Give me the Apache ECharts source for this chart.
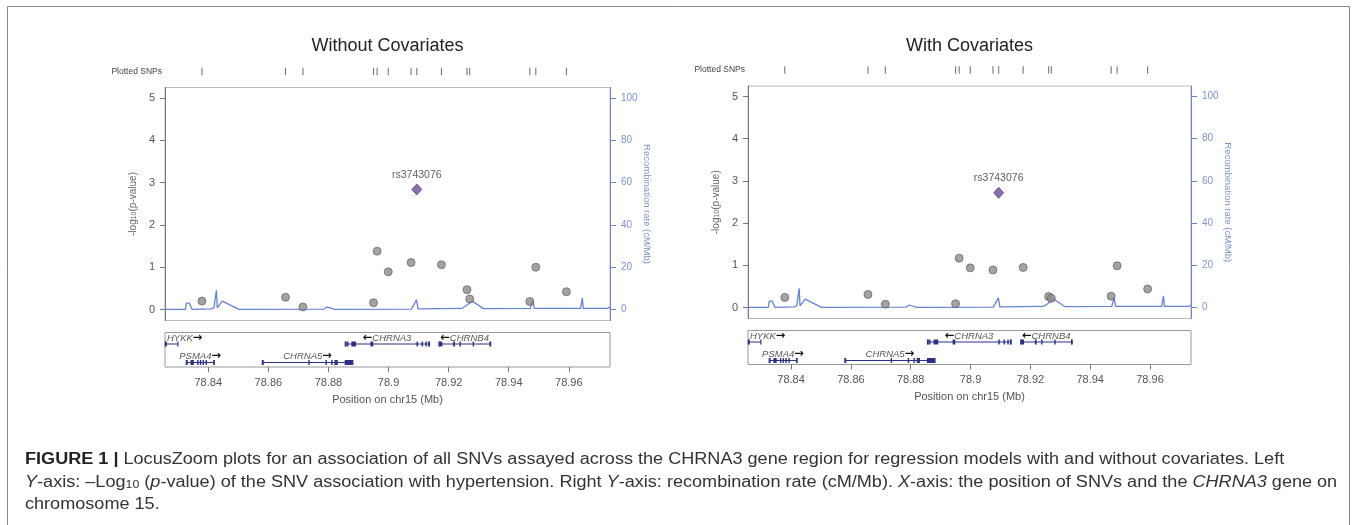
<!DOCTYPE html>
<html><head><meta charset="utf-8">
<script src="https://cdn.jsdelivr.net/npm/echarts/dist/echarts.min.js"></script>
<style>html,body{margin:0;padding:0;background:#fff}#c{width:1357px;height:525px}</style>
</head><body><div id="c"></div>
<script>
// ---------------- data ----------------
const panelTitles = ['Without Covariates', 'With Covariates'];
const snpPos = [78.8379, 78.8657, 78.8715, 78.8950, 78.8962, 78.8999, 78.9075, 78.9094, 78.9176, 78.9261, 78.9270, 78.9470, 78.9490, 78.9592];
const logPNoCov = [0.20, 0.29, 0.06, 0.16, 1.38, 0.89, 1.11, 2.84, 1.06, 0.47, 0.25, 0.19, 1.00, 0.42];
const logPCov   = [0.24, 0.31, 0.08, 0.09, 1.17, 0.94, 0.89, 2.72, 0.95, 0.26, 0.22, 0.27, 0.99, 0.44];
const leadSnpIndex = 7;
const leadSnpName = 'rs3743076';
const recombPos  = [78.8256, 78.8324, 78.8327, 78.8337, 78.8341, 78.8346, 78.8410, 78.8419, 78.8424, 78.8427, 78.8430, 78.8434, 78.8447, 78.8502, 78.8786, 78.8795, 78.8820, 78.9076, 78.9093, 78.9098, 78.9243, 78.9254, 78.9279, 78.9316, 78.9472, 78.9480, 78.9485, 78.9639, 78.9645, 78.9648, 78.9728, 78.9737];
const recombRate = [0.1, 0.1, 3.0, 3.0, 2.6, 0.1, 0.3, 0.9, 0.5, 9.1, 0.8, 0.9, 4.0, 0.1, 0.2, 1.2, 0.1, 0.2, 4.6, 0.3, 0.5, 1.4, 3.9, 0.4, 0.5, 4.6, 0.5, 0.5, 5.5, 0.5, 0.5, 1.1];
const xTicks = [78.84, 78.86, 78.88, 78.90, 78.92, 78.94, 78.96];
const yTicksLeft = [0, 1, 2, 3, 4, 5];
const yTicksRight = [0, 20, 40, 60, 80, 100];
const geneNames  = ['HYKK', 'PSMA4', 'CHRNA5', 'CHRNA3', 'CHRNB4'];
const geneStart  = [78.8257, 78.8327, 78.8580, 78.8856, 78.9168];
const geneEnd    = [78.8299, 78.8419, 78.8881, 78.9134, 78.9338];
const geneStrand = ['+', '+', '+', '-', '-'];
const geneRow    = [1, 2, 2, 1, 1];
const geneExons = [
  [[78.8257, 78.8262]],
  [[78.8327, 78.8330], [78.8341, 78.8352], [78.8363, 78.8364], [78.8372, 78.8373], [78.8381, 78.8382], [78.8391, 78.8392], [78.8417, 78.8419]],
  [[78.8580, 78.8581], [78.8733, 78.8734], [78.8790, 78.8791], [78.8809, 78.8810], [78.8820, 78.8831], [78.8854, 78.8881]],
  [[78.8856, 78.8857], [78.8862, 78.8863], [78.8876, 78.8892], [78.8940, 78.8949], [78.9093, 78.9094], [78.9110, 78.9111], [78.9123, 78.9124], [78.9133, 78.9134]],
  [[78.9168, 78.9179], [78.9215, 78.9221], [78.9236, 78.9237], [78.9280, 78.9281], [78.9337, 78.9338]]
];
const captionLines = [
  '{b|FIGURE 1 |} LocusZoom plots for an association of all SNVs assayed across the CHRNA3 gene region for regression models with and without covariates. Left',
  '{i|Y}-axis: \u2013Log{sub|10} ({i|p}-value) of the SNV association with hypertension. Right {i|Y}-axis: recombination rate (cM/Mb). {i|X}-axis: the position of SNVs and the {i|CHRNA3} gene on',
  'chromosome 15.'
];

// ---------------- layout / style ----------------
const X_MIN = 78.8256, X_MAX = 78.9737;
const Y_MIN = -0.26, Y_MAX = 5.25, RECOMB_SCALE = 20;
const FONT = '"Liberation Sans", Arial, Helvetica, sans-serif';
const NAVY = '#2b3088';
const RECOMB = '#6383d8';
const L = [
  {left: 165, right: 610, top: 87.5, bottom: 320.5, snpTop: 67.5, geneTop: 332.5, geneBottom: 367, snpLabelX: 162},
  {left: 748, right: 1191, top: 86, bottom: 318.5, snpTop: 66, geneTop: 330.5, geneBottom: 364.5, snpLabelX: 745}
];

const mctx = document.createElement('canvas').getContext('2d');
function textWidth(t, font) { mctx.font = font; return mctx.measureText(t).width; }

function renderGene(params, api) {
  const i = api.value(2);
  const cs = params.coordSys;
  const lineY = cs.y + (geneRow[i] === 1 ? 11.5 : 30);
  const labelY = cs.y + (geneRow[i] === 1 ? 5.8 : 24);
  const xa = Math.max(api.coord([geneStart[i], 0])[0], cs.x);
  const xb = Math.min(api.coord([geneEnd[i], 0])[0], cs.x + cs.width);
  const ch = [];
  ch.push({type: 'line', shape: {x1: xa, y1: lineY, x2: xb, y2: lineY}, style: {stroke: NAVY, lineWidth: 1}});
  [xa, xb].forEach(x => ch.push({type: 'line', shape: {x1: x, y1: lineY - 2.5, x2: x, y2: lineY + 2.5}, style: {stroke: NAVY, lineWidth: 1.2}}));
  geneExons[i].forEach(([s, e]) => {
    const p0 = api.coord([s, 0])[0], p1 = api.coord([e, 0])[0];
    const w = Math.max(1.4, p1 - p0);
    ch.push({type: 'rect', shape: {x: Math.max(p0, cs.x), y: lineY - 2.5, width: w, height: 5}, style: {fill: NAVY}});
  });
  const plus = geneStrand[i] === '+';
  const label = plus ? geneNames[i] + '{a|\u2192}' : '{a|\u2190}' + geneNames[i];
  const plain = plus ? geneNames[i] + '\u2192' : '\u2190' + geneNames[i];
  const w = textWidth(plain, 'italic 10px "Liberation Sans"');
  let cx = (xa + xb) / 2, align = 'center';
  if (cx - w / 2 < cs.x + 2) { cx = cs.x + 2; align = 'left'; }
  ch.push({type: 'text', x: cx, y: labelY, style: {text: label, fontSize: 9.5, fontStyle: 'italic', fontFamily: FONT, fill: '#555', align: align, verticalAlign: 'middle',
    rich: {a: {fontStyle: 'normal', fill: '#111', fontSize: 11.5, fontWeight: 'bold', fontFamily: '"DejaVu Sans", sans-serif'}}}});
  return {type: 'group', children: ch};
}

const grids = [], xAxes = [], yAxes = [], series = [], graphics = [];
L.forEach((g, p) => {
  const gi = p * 3, yi = p * 4;
  const w = g.right - g.left;
  grids.push({left: g.left, top: g.snpTop, width: w, height: 8, show: false});
  grids.push({left: g.left, top: g.top, width: w, height: g.bottom - g.top, show: true, borderColor: '#bbb', borderWidth: 1, backgroundColor: 'transparent'});
  grids.push({left: g.left, top: g.geneTop, width: w, height: g.geneBottom - g.geneTop, show: true, borderColor: '#999', borderWidth: 1, backgroundColor: 'transparent'});
  xAxes.push({type: 'value', gridIndex: gi, min: X_MIN, max: X_MAX, show: false});
  xAxes.push({type: 'value', gridIndex: gi + 1, min: X_MIN, max: X_MAX, show: false});
  xAxes.push({type: 'value', gridIndex: gi + 2, min: X_MIN, max: X_MAX, position: 'bottom',
    axisLine: {show: false}, splitLine: {show: false},
    axisTick: {show: true, customValues: xTicks, length: 5, lineStyle: {color: '#777'}},
    axisLabel: {customValues: xTicks, formatter: v => String(parseFloat(v.toFixed(2))), color: '#555', fontSize: 11, margin: 10, fontFamily: FONT},
    name: 'Position on chr15 (Mb)', nameLocation: 'middle', nameGap: 27, nameTextStyle: {color: '#555', fontSize: 11, fontFamily: FONT}});
  yAxes.push({type: 'value', gridIndex: gi, min: -1, max: 1, show: false});
  yAxes.push({type: 'value', gridIndex: gi + 1, min: Y_MIN, max: Y_MAX, position: 'left',
    axisLine: {show: true, lineStyle: {color: '#777'}}, splitLine: {show: false},
    axisTick: {show: true, customValues: yTicksLeft, length: 5, lineStyle: {color: '#777'}},
    axisLabel: {customValues: yTicksLeft, color: '#555', fontSize: 11, margin: 10, fontFamily: FONT},
    name: '-log{sub|10}(p-value)', nameLocation: 'middle', nameRotate: 90, nameGap: 27,
    nameTextStyle: {color: '#666', fontSize: 10, fontFamily: FONT, rich: {sub: {fontSize: 7, color: '#666', verticalAlign: 'bottom', fontFamily: FONT}}}});
  yAxes.push({type: 'value', gridIndex: gi + 1, min: Y_MIN * RECOMB_SCALE, max: Y_MAX * RECOMB_SCALE, position: 'right',
    axisLine: {show: true, lineStyle: {color: '#6b83d3'}}, splitLine: {show: false},
    axisTick: {show: true, customValues: yTicksRight, length: 6, lineStyle: {color: '#6b83d3'}},
    axisLabel: {customValues: yTicksRight, color: '#7d90d6', fontSize: 10, margin: 11, fontFamily: FONT},
    name: 'Recombination rate (cM/Mb)', nameLocation: 'middle', nameRotate: -90, nameGap: 26,
    nameTextStyle: {color: '#7d90d6', fontSize: 9.5, fontFamily: FONT}});
  yAxes.push({type: 'value', gridIndex: gi + 2, min: 0, max: 1, show: false});

  const vals = p === 0 ? logPNoCov : logPCov;
  series.push({type: 'scatter', xAxisIndex: gi, yAxisIndex: yi, data: snpPos.map(x => [x, 0]), symbol: 'rect', symbolSize: [1.1, 7.5], itemStyle: {color: '#555'}, silent: true});
  series.push({type: 'line', xAxisIndex: gi + 1, yAxisIndex: yi + 2, data: recombPos.map((x, i) => [x, recombRate[i]]), showSymbol: false, lineStyle: {color: RECOMB, width: 1.3}, z: 2, silent: true});
  series.push({type: 'scatter', xAxisIndex: gi + 1, yAxisIndex: yi + 1, data: snpPos.map((x, i) => [x, vals[i]]).filter((d, i) => i !== leadSnpIndex),
    symbol: 'circle', symbolSize: 8, itemStyle: {color: '#8c8c8c', borderColor: '#555', borderWidth: 0.8}, z: 3});
  series.push({type: 'scatter', xAxisIndex: gi + 1, yAxisIndex: yi + 1, data: [[snpPos[leadSnpIndex], vals[leadSnpIndex]]],
    symbol: 'diamond', symbolSize: [10, 11], itemStyle: {color: '#6f4a9c', borderColor: '#3f2466', borderWidth: 0.8}, z: 4,
    label: {show: true, position: 'top', distance: 3, formatter: leadSnpName, color: '#333', fontSize: 10.5, fontFamily: FONT}});
  series.push({type: 'custom', xAxisIndex: gi + 2, yAxisIndex: yi + 3, renderItem: renderGene, clip: false,
    data: geneNames.map((n, i) => [geneStart[i], geneEnd[i], i, 0]), encode: {x: [0, 1], y: 3}, silent: true});

  graphics.push({type: 'text', x: (g.left + g.right) / 2, y: 46, style: {text: panelTitles[p], fontSize: 18, fontFamily: FONT, fill: '#222', align: 'center', verticalAlign: 'middle'}});
  graphics.push({type: 'text', x: g.snpLabelX, y: g.snpTop + 4, style: {text: 'Plotted SNPs', fontSize: 8.5, fontFamily: FONT, fill: '#444', align: 'right', verticalAlign: 'middle'}});
});

graphics.push({type: 'rect', shape: {x: 7.5, y: 6.5, width: 1342, height: 540}, style: {fill: 'none', stroke: '#888', lineWidth: 1}, silent: true});
captionLines.forEach((t, k) => {
  graphics.push({type: 'text', x: 25, y: 460 + k * 22.5, scaleX: 1.13, style: {text: t, x: 0, y: 0, fontSize: 16, fontFamily: FONT, fill: '#333', align: 'left', verticalAlign: 'middle',
    rich: {
      b: {fontWeight: 'bold', fill: '#222', fontSize: 16, fontFamily: FONT},
      i: {fontStyle: 'italic', fill: '#333', fontSize: 16, fontFamily: FONT},
      sub: {fontSize: 11, fill: '#333', verticalAlign: 'bottom', fontFamily: FONT}
    }}});
});

const chart = echarts.init(document.getElementById('c'), null, {renderer: 'canvas', width: 1357, height: 525});
chart.setOption({
  animation: false,
  backgroundColor: '#fff',
  textStyle: {fontFamily: FONT},
  grid: grids, xAxis: xAxes, yAxis: yAxes, series: series, graphic: graphics
});
</script></body></html>
